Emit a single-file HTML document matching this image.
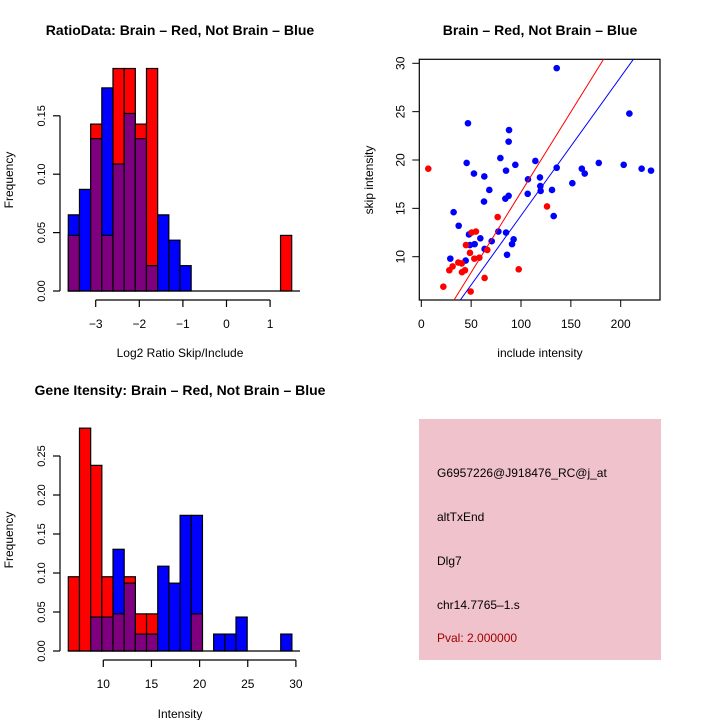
<!DOCTYPE html>
<html><head><meta charset="utf-8"><style>
body{margin:0;background:#fff}
svg{display:block;font-family:"Liberation Sans",sans-serif}
</style></head><body>
<svg id="s" width="720" height="720" xmlns="http://www.w3.org/2000/svg">
<text x="180" y="35" font-size="14" font-weight="bold" text-anchor="middle">RatioData: Brain – Red, Not Brain – Blue</text>
<text x="540" y="35" font-size="14" font-weight="bold" text-anchor="middle">Brain – Red, Not Brain – Blue</text>
<text x="180" y="395" font-size="14" font-weight="bold" text-anchor="middle">Gene Itensity: Brain – Red, Not Brain – Blue</text>
<text x="180" y="357" font-size="12" text-anchor="middle">Log2 Ratio Skip/Include</text>
<text x="540" y="357" font-size="12" text-anchor="middle">include intensity</text>
<text x="180" y="718" font-size="12" text-anchor="middle">Intensity</text>
<text transform="translate(13,180) rotate(-90)" font-size="12" text-anchor="middle">Frequency</text>
<text transform="translate(373,180) rotate(-90)" font-size="12" text-anchor="middle">skip intensity</text>
<text transform="translate(13,540) rotate(-90)" font-size="12" text-anchor="middle">Frequency</text>
<g>
<rect x="419" y="419" width="242" height="241" fill="#f0c2cc"/>
<text x="437" y="477" font-size="12">G6957226@J918476_RC@j_at</text>
<text x="437" y="521" font-size="12">altTxEnd</text>
<text x="437" y="565" font-size="12">Dlg7</text>
<text x="437" y="609" font-size="12">chr14.7765–1.s</text>
<text x="437" y="642" font-size="12" fill="#a00000">Pval: 2.000000</text>
</g>
</svg>
<script>
const ratioRed=[0.0476,0,0.1429,0.0476,0.1905,0.1905,0.1429,0.1905,0,0,0,0,0,0,0,0,0,0,0,0.0476];
const ratioBlue=[0.0652,0.087,0.1304,0.1739,0.1087,0.152,0.1304,0.0217,0.0652,0.0435,0.0217,0,0,0,0,0,0,0,0,0];
const ratioXTicks=[-3,-2,-1,0,1];
const ratioYTicks=[0,0.05,0.10,0.15];
const intRed=[0.0952,0.2857,0.238,0.0952,0.0476,0.0952,0.0476,0.0476,0,0,0,0.0476,0,0,0,0,0,0,0,0];
const intBlue=[0,0,0.0435,0.0435,0.1304,0.087,0.0217,0.0217,0.1087,0.087,0.1739,0.1739,0,0.0217,0.0217,0.0435,0,0,0,0.0217];
const intXTicks=[10,15,20,25,30];
const intYTicks=[0,0.05,0.10,0.15,0.20,0.25];
const blueX=[135.8,208.7,46.8,88,87.6,79.3,114.4,45.5,178,94.3,203,135.8,221,161,230.4,85,52.8,163.9,63.2,119,107,151.5,119.4,68.2,131.1,119.7,106.7,87.6,84.3,62.9,32.4,132.8,37.5,77.3,47.8,85,59.2,92.6,70.6,53.5,48.8,91,63.5,86,29.1,44.5];
const blueY=[29.5,24.8,23.8,23.1,21.9,20.2,19.9,19.7,19.7,19.5,19.5,19.2,19.1,19.1,18.9,18.9,18.6,18.6,18.3,18.2,18.0,17.6,17.3,16.9,16.9,16.8,16.5,16.3,16.0,15.7,14.6,14.2,13.2,12.6,12.3,12.5,11.9,11.8,11.6,11.3,11.2,11.3,10.8,10.2,9.8,9.6];
const redX=[7,126.1,76.6,54.8,50.5,44.8,66.2,48.8,58.2,53.2,37.1,40.5,31.4,28.1,43.8,40.8,97.7,63.5,22.1,49.5];
const redY=[19.1,15.2,14.1,12.6,12.5,11.2,10.7,10.4,9.9,9.8,9.4,9.3,9.0,8.6,8.6,8.4,8.7,7.8,6.9,6.4];
const scXTicks=[0,50,100,150,200];
const scYTicks=[10,15,20,25,30];
const fitRed=[0.07,0.166];
const fitBlue=[-0.09,0.1434];

const NS='http://www.w3.org/2000/svg',S=document.getElementById('s');
function mk(t,a,p){const e=document.createElementNS(NS,t);for(const k in a)e.setAttribute(k,a[k]);(p||S).appendChild(e);return e;}
function hist(red,blue,x0,w,yScale,xs,bTicksX,bTicksY,axY,yAxisX,pfx){
  const g=mk('g',{});
  
  
  for(let i=0;i<red.length;i++){
    const xa=x0+i*w,r=red[i],b=blue[i],mn=Math.min(r,b),mx=Math.max(r,b);
    if(mx>0){const e=mk('rect',{x:xa,y:yScale(mx),width:w,height:yScale(0)-yScale(mx),fill:r>b?'#ff0000':'#0000ff',stroke:'#000','stroke-width':1.2},g);
      
      }
    if(mn>0){const e=mk('rect',{x:xa,y:yScale(mn),width:w,height:yScale(0)-yScale(mn),fill:'#7f007f',stroke:'#000','stroke-width':1.2},g);
      
      }
  }
  mk('line',{x1:x0,x2:300,y1:yScale(0),y2:yScale(0),stroke:'#000','stroke-width':1.2},g);
  mk('line',{x1:yAxisX,x2:yAxisX,y1:yScale(bTicksY[0]),y2:yScale(bTicksY[bTicksY.length-1]),stroke:'#000','stroke-width':1.2},g);
  bTicksY.forEach(v=>{const y=yScale(v);mk('line',{x1:yAxisX-7,x2:yAxisX,y1:y,y2:y,stroke:'#000','stroke-width':1.2},g);
    const t=mk('text',{transform:`translate(${yAxisX-15},${y}) rotate(-90)`,'font-size':11,'text-anchor':'middle'},g);t.textContent=v.toFixed(2);});
  mk('line',{x1:xs(bTicksX[0]),x2:xs(bTicksX[bTicksX.length-1]),y1:axY,y2:axY,stroke:'#000','stroke-width':1.2},g);
  bTicksX.forEach(v=>{const x=xs(v);mk('line',{x1:x,x2:x,y1:axY,y2:axY+7,stroke:'#000','stroke-width':1.2},g);
    const t=mk('text',{x:x,y:axY+28,'font-size':12,'text-anchor':'middle'},g);t.textContent=v<0?'−'+(-v):v;});
}
hist(ratioRed,ratioBlue,68.3,11.17,v=>291-v/0.05*58.4,v=>95.7+(v+3)*43.6,ratioXTicks,ratioYTicks,300,60,'ratio');
hist(intRed,intBlue,68.3,11.18,v=>651-v/0.05*39,v=>103.3+(v-10)*9.63,intXTicks,intYTicks,660,60,'intensity');

// scatter
const L=419.3,R=660,T=59.3,B=300;
const sx=v=>421.3+v*0.997, sy=v=>256.7-(v-10)*9.67;
const sg=mk('g',{});


mk('clipPath',{id:'cp'},sg);mk('rect',{x:L,y:T,width:R-L,height:B-T},document.getElementById('cp'));
mk('rect',{x:L,y:T,width:R-L,height:B-T,fill:'none',stroke:'#000','stroke-width':1.2},sg);
scXTicks.forEach(v=>{const x=sx(v);mk('line',{x1:x,x2:x,y1:B,y2:B+7,stroke:'#000'},sg);const t=mk('text',{x:x,y:B+28,'font-size':12,'text-anchor':'middle'},sg);t.textContent=v;});
mk('line',{x1:sx(0),x2:sx(200),y1:B,y2:B,stroke:'#000'},sg);
scYTicks.forEach(v=>{const y=sy(v);mk('line',{x1:L-7,x2:L,y1:y,y2:y,stroke:'#000'},sg);const t=mk('text',{transform:`translate(${L-15},${y}) rotate(-90)`,'font-size':12,'text-anchor':'middle'},sg);t.textContent=v;});
blueX.forEach((v,i)=>{const c=mk('circle',{cx:sx(v),cy:sy(blueY[i]),r:3.3,fill:'#0000ff'},sg);
  
  });
redX.forEach((v,i)=>{const c=mk('circle',{cx:sx(v),cy:sy(redY[i]),r:3.3,fill:'#ff0000'},sg);
  
  });
[[fitRed,'#ff0000','red-fit-line'],[fitBlue,'#0000ff','blue-fit-line']].forEach(([f,c,n])=>{
  const l=mk('line',{x1:sx(0),y1:sy(f[0]),x2:sx(240),y2:sy(f[0]+f[1]*240),stroke:c,'stroke-width':1,'clip-path':'url(#cp)'},sg);
  
  });
</script>
</body></html>
